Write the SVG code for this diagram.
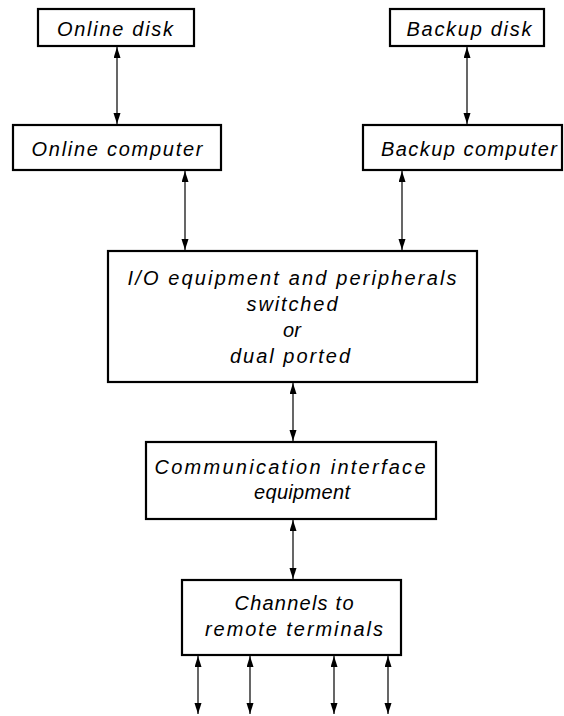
<svg xmlns="http://www.w3.org/2000/svg" width="564" height="716" viewBox="0 0 564 716">
<style>
.box{fill:#fff;stroke:#000;stroke-width:2.2}
.lbl{font-family:"Liberation Sans",Arial,sans-serif;font-style:italic;font-size:20px;fill:#000;text-anchor:middle}
.con{stroke:#000;stroke-width:1.2;fill:none;marker-start:url(#ah);marker-end:url(#ah)}
</style>
<defs>
<marker id="ah" markerUnits="userSpaceOnUse" markerWidth="12" markerHeight="8" refX="11" refY="3.5" orient="auto-start-reverse">
<path d="M0,0 L11,3.5 L0,7 z" fill="#000"/>
</marker>
</defs>
<rect width="564" height="716" fill="#fff"/>
<g id="connectors">
<line class="con" x1="117" y1="47" x2="117" y2="124"/>
<line class="con" x1="467" y1="47" x2="467" y2="124"/>
<line class="con" x1="185" y1="171" x2="185" y2="250"/>
<line class="con" x1="402" y1="171" x2="402" y2="250"/>
<line class="con" x1="293" y1="383" x2="293" y2="441"/>
<line class="con" x1="293" y1="520" x2="293" y2="579"/>
<line class="con" x1="198" y1="656" x2="198" y2="714"/>
<line class="con" x1="250" y1="656" x2="250" y2="714"/>
<line class="con" x1="334" y1="656" x2="334" y2="714"/>
<line class="con" x1="388" y1="656" x2="388" y2="714"/>
</g>
<g id="online-disk">
<rect class="box" x="38" y="9" width="156" height="37"/>
<text class="lbl" x="115" y="36" textLength="116" lengthAdjust="spacing">Online disk</text>
</g>
<g id="backup-disk">
<rect class="box" x="390" y="9" width="154" height="37"/>
<text class="lbl" x="469" y="36" textLength="125" lengthAdjust="spacing">Backup disk</text>
</g>
<g id="online-computer">
<rect class="box" x="13" y="125" width="208" height="45"/>
<text class="lbl" x="117" y="156" textLength="171" lengthAdjust="spacing">Online computer</text>
</g>
<g id="backup-computer">
<rect class="box" x="363" y="125" width="199" height="45"/>
<text class="lbl" x="469" y="156" textLength="176" lengthAdjust="spacing">Backup computer</text>
</g>
<g id="io-equipment">
<rect class="box" x="108" y="251" width="369" height="131"/>
<text class="lbl" x="292" y="285" textLength="329" lengthAdjust="spacing">I/O equipment and peripherals</text>
<text class="lbl" x="292" y="311" textLength="91" lengthAdjust="spacing">switched</text>
<text class="lbl" x="292" y="337">or</text>
<text class="lbl" x="290" y="363" textLength="120" lengthAdjust="spacing">dual ported</text>
</g>
<g id="communication-interface">
<rect class="box" x="146" y="442" width="290" height="77"/>
<text class="lbl" x="290" y="474" textLength="271" lengthAdjust="spacing">Communication interface</text>
<text class="lbl" x="302" y="499" textLength="96" lengthAdjust="spacing">equipment</text>
</g>
<g id="channels">
<rect class="box" x="182" y="580" width="219" height="75"/>
<text class="lbl" x="294" y="610" textLength="119" lengthAdjust="spacing">Channels to</text>
<text class="lbl" x="294" y="636" textLength="178" lengthAdjust="spacing">remote terminals</text>
</g>
</svg>
